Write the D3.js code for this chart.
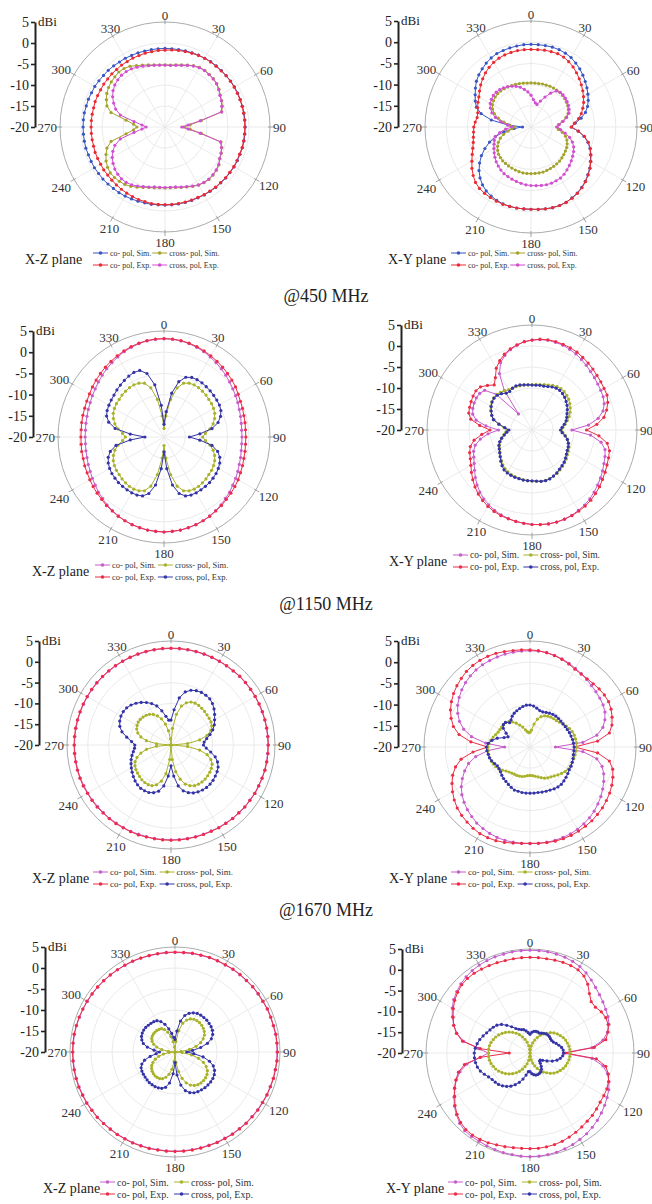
<!DOCTYPE html>
<html>
<head>
<meta charset="utf-8">
<script src="https://cdn.jsdelivr.net/npm/d3@7"></script>
<style>
  html, body { margin: 0; padding: 0; background: #fff; }
  svg { display: block; }
</style>
</head>
<body>
<svg id="fig" width="652" height="1204"></svg>
<script>
// ---- axes, ticks and labels ----
const angleStep = 5;
const angles = d3.range(0, 360, angleStep);           // sample angles, degrees
const angleTicks = [0, 30, 60, 90, 120, 150, 180, 210, 240, 270, 300, 330];
const gainTicks = [5, 0, -5, -10, -15, -20];
const gainDomain = [-20, 5];
const seriesKeys = ["coSim", "coExp", "crossSim", "crossExp"];
const seriesLabels = ["co- pol, Sim.", "co- pol, Exp.", "cross- pol, Sim.", "cross, pol, Exp."];
const planeNames = ["X-Z plane", "X-Y plane"];
const frequencyTitles = ["@450 MHz", "@1150 MHz", "@1670 MHz"];

// ---- gain patterns (dBi), one value every 5 degrees from 0 to 355 ----
// 450 MHz, X-Z plane
const xz450CoSim = [
  -1.3,-1.3,-1.3,-1.2,-1.2,-1.1,-1.1,-1.0,-1.0,-1.0,-1.0,-0.9,
  -0.9,-0.9,-0.9,-0.9,-0.9,-0.9,-0.9,-0.9,-0.9,-0.9,-1.0,-1.0,
  -1.0,-1.1,-1.1,-1.2,-1.2,-1.3,-1.3,-1.4,-1.4,-1.4,-1.4,-1.4,
  -1.4,-1.4,-1.3,-1.3,-1.2,-1.1,-1.0,-0.9,-0.9,-0.8,-0.7,-0.7,
  -0.6,-0.6,-0.6,-0.5,-0.5,-0.5,-0.5,-0.5,-0.5,-0.6,-0.6,-0.7,
  -0.7,-0.8,-0.9,-0.9,-1.0,-1.1,-1.1,-1.2,-1.2,-1.3,-1.3,-1.3];
const xz450CoExp = [
  -1.7,-1.6,-1.5,-1.4,-1.3,-1.2,-1.1,-1.1,-1.1,-1.1,-1.0,-1.0,
  -1.0,-1.0,-1.0,-1.0,-1.0,-1.0,-1.0,-1.0,-1.0,-1.0,-1.1,-1.1,
  -1.1,-1.2,-1.2,-1.3,-1.3,-1.4,-1.4,-1.5,-1.5,-1.5,-1.5,-1.5,
  -1.5,-1.5,-1.5,-1.6,-1.6,-1.7,-1.8,-1.9,-2.0,-2.1,-2.2,-2.2,
  -2.3,-2.3,-2.3,-2.4,-2.4,-2.4,-2.4,-2.4,-2.4,-2.4,-2.3,-2.3,
  -2.3,-2.2,-2.2,-2.1,-2.1,-2.0,-2.0,-1.9,-1.9,-1.8,-1.8,-1.7];
const xz450CrossSim = [
  -5.2,-5.2,-5.0,-4.7,-4.3,-3.9,-3.6,-3.5,-3.6,-3.7,-3.9,-4.3,
  -4.8,-5.1,-5.5,-6.0,-11.2,-14.0,-15.5,-14.0,-11.2,-6.2,-5.6,-5.2,
  -4.9,-4.3,-4.0,-3.8,-3.7,-3.8,-4.0,-4.4,-4.8,-5.1,-5.4,-5.5,
  -5.5,-5.5,-5.3,-5.1,-4.7,-4.2,-3.7,-3.3,-3.1,-3.0,-3.0,-3.3,
  -3.8,-4.5,-5.3,-6.7,-10.6,-12.5,-13.3,-12.5,-10.6,-6.7,-5.3,-4.6,
  -4.0,-3.6,-3.3,-3.1,-2.9,-3.0,-3.3,-3.9,-4.3,-4.7,-5.0,-5.2];
const xz450CrossExp = [
  -5.3,-5.3,-5.1,-4.8,-4.4,-4.0,-3.7,-3.6,-3.7,-3.8,-4.0,-4.4,
  -4.9,-5.2,-5.6,-6.1,-11.5,-14.5,-16.0,-14.5,-11.5,-6.3,-5.7,-5.3,
  -5.0,-4.4,-4.1,-3.9,-3.8,-3.9,-4.1,-4.5,-4.9,-5.2,-5.5,-5.6,
  -5.6,-5.6,-5.5,-5.2,-4.9,-4.5,-4.1,-3.9,-3.9,-4.1,-4.4,-4.9,
  -5.5,-6.3,-7.3,-9.0,-12.5,-14.5,-15.5,-14.5,-12.5,-9.0,-7.5,-6.5,
  -5.6,-4.9,-4.4,-4.1,-3.9,-3.9,-4.0,-4.3,-4.6,-4.9,-5.1,-5.2];

// 450 MHz, X-Y plane
const xy450CoSim = [
  -0.5,-0.5,-0.5,-0.5,-0.6,-0.8,-1.1,-1.6,-2.1,-2.7,-3.3,-3.9,
  -4.5,-5.1,-5.8,-6.7,-8.0,-9.5,-10.5,-8.8,-7.3,-6.1,-5.2,-4.5,
  -3.8,-3.1,-2.5,-1.9,-1.4,-1.0,-0.7,-0.4,-0.3,-0.3,-0.4,-0.5,
  -0.6,-0.6,-0.6,-0.6,-0.7,-0.9,-1.2,-1.6,-2.2,-3.0,-4.0,-5.2,
  -6.5,-8.0,-9.6,-11.3,-13.5,-16.0,-18.0,-14.5,-10.5,-7.8,-6.3,-5.5,
  -4.8,-4.0,-3.2,-2.6,-2.1,-1.6,-1.2,-0.9,-0.8,-0.7,-0.6,-0.5];
const xy450CoExp = [
  -1.7,-1.7,-1.6,-1.6,-1.6,-1.8,-2.2,-2.7,-3.3,-3.9,-4.5,-5.1,
  -5.7,-6.3,-7.0,-7.7,-8.6,-9.7,-10.5,-8.8,-7.2,-6.0,-5.1,-4.4,
  -3.7,-3.0,-2.4,-1.8,-1.3,-0.9,-0.6,-0.4,-0.3,-0.3,-0.4,-0.5,
  -0.6,-0.6,-0.6,-0.6,-0.6,-0.7,-0.8,-0.9,-1.1,-1.5,-2.2,-3.0,
  -3.9,-4.7,-5.4,-5.9,-6.2,-6.4,-6.5,-6.8,-7.1,-7.0,-6.6,-6.2,
  -5.8,-5.2,-4.5,-3.9,-3.3,-2.8,-2.4,-2.1,-1.9,-1.8,-1.7,-1.7];
const xy450CrossSim = [
  -9.6,-9.6,-9.6,-9.5,-9.5,-9.4,-9.4,-9.4,-9.4,-9.5,-9.6,-9.8,
  -10.0,-10.3,-10.7,-11.5,-12.5,-13.5,-14.0,-13.5,-12.5,-11.6,-11.0,-10.6,
  -10.3,-10.1,-9.9,-9.7,-9.5,-9.4,-9.3,-9.2,-9.1,-9.0,-9.0,-9.0,
  -9.0,-9.0,-9.0,-9.1,-9.2,-9.3,-9.4,-9.5,-9.6,-9.8,-10.0,-10.4,
  -10.9,-11.5,-12.3,-13.3,-14.5,-15.5,-16.0,-15.0,-13.5,-12.0,-10.8,-10.0,
  -9.5,-9.2,-9.0,-8.9,-8.9,-9.0,-9.1,-9.2,-9.3,-9.4,-9.5,-9.6];
const xy450CrossExp = [
  -12.5,-13.5,-14.2,-14.5,-13.5,-12.2,-10.8,-9.6,-9.3,-9.3,-9.4,-9.6,
  -9.8,-10.1,-10.5,-11.3,-12.3,-13.3,-13.8,-13.0,-11.8,-10.6,-9.6,-8.9,
  -8.4,-8.0,-7.6,-7.2,-6.8,-6.4,-6.1,-6.0,-5.9,-5.9,-6.0,-6.1,
  -6.2,-6.3,-6.5,-6.7,-6.9,-7.1,-7.3,-7.6,-8.0,-8.4,-8.9,-9.4,
  -9.9,-10.4,-10.8,-11.3,-12.5,-14.0,-15.5,-14.5,-12.8,-11.3,-10.2,-9.4,
  -8.9,-8.6,-8.4,-8.4,-8.5,-8.7,-9.0,-9.4,-9.8,-10.3,-11.0,-11.7];

// 1150 MHz, X-Z plane
const xz1150CoSim = [
  3.2,3.1,3.0,2.8,2.5,2.2,1.8,1.4,1.0,0.6,0.2,-0.2,
  -0.5,-0.8,-1.1,-1.3,-1.5,-1.6,-1.6,-1.6,-1.5,-1.3,-1.1,-0.8,
  -0.5,-0.2,0.2,0.5,0.9,1.2,1.5,1.8,2.0,2.2,2.3,2.4,
  2.4,2.4,2.3,2.2,2.0,1.8,1.5,1.2,0.9,0.5,0.2,-0.2,
  -0.5,-0.8,-1.0,-1.2,-1.3,-1.4,-1.4,-1.4,-1.3,-1.2,-1.0,-0.8,
  -0.5,-0.2,0.2,0.6,1.0,1.4,1.8,2.2,2.5,2.8,3.0,3.1];
const xz1150CoExp = [
  3.2,3.2,3.1,2.9,2.7,2.4,2.1,1.8,1.5,1.2,0.9,0.6,
  0.2,-0.1,-0.3,-0.5,-0.6,-0.7,-0.7,-0.7,-0.6,-0.5,-0.3,-0.1,
  0.2,0.4,0.6,0.8,1.1,1.3,1.6,1.8,2.0,2.1,2.3,2.3,
  2.4,2.3,2.3,2.1,2.0,1.8,1.6,1.3,1.1,0.8,0.6,0.4,
  0.2,0.0,-0.1,-0.3,-0.3,-0.4,-0.4,-0.4,-0.3,-0.2,-0.1,0.1,
  0.3,0.6,0.9,1.2,1.5,1.8,2.1,2.4,2.7,2.9,3.1,3.2];
const xz1150CrossSim = [
  -18.0,-15.0,-11.0,-8.0,-6.5,-6.0,-5.8,-5.8,-5.9,-6.0,-6.2,-6.3,
  -6.5,-6.8,-7.3,-8.0,-9.0,-10.2,-10.9,-10.2,-9.0,-8.0,-7.3,-6.8,
  -6.5,-6.3,-6.2,-6.0,-5.9,-5.8,-5.8,-6.0,-6.5,-8.0,-11.0,-15.0,
  -18.0,-15.0,-11.0,-8.0,-6.5,-6.0,-5.8,-5.8,-5.9,-6.0,-6.2,-6.3,
  -6.5,-6.8,-7.3,-8.0,-9.0,-10.2,-10.9,-10.2,-9.0,-8.0,-7.3,-6.8,
  -6.5,-6.3,-6.2,-6.0,-5.9,-5.8,-5.8,-6.0,-6.5,-8.0,-11.0,-15.0];
const xz1150CrossExp = [
  -17.0,-14.0,-9.5,-6.5,-5.0,-4.5,-4.4,-4.4,-4.5,-4.6,-4.7,-4.8,
  -4.9,-5.2,-5.8,-6.8,-8.5,-11.5,-14.0,-11.5,-8.5,-6.9,-6.0,-5.5,
  -5.2,-5.0,-4.9,-4.8,-4.8,-4.8,-4.8,-4.9,-5.2,-6.2,-8.5,-12.5,
  -16.5,-12.5,-8.5,-6.2,-5.2,-4.9,-4.8,-4.8,-4.8,-4.8,-4.9,-5.0,
  -5.2,-5.5,-6.0,-6.9,-8.5,-12.0,-15.5,-12.0,-8.3,-6.5,-5.6,-5.2,
  -5.0,-4.8,-4.6,-4.3,-4.0,-3.7,-3.4,-3.2,-3.3,-4.5,-7.5,-12.5];

// 1150 MHz, X-Y plane
const xy1150CoSim = [
  1.4,1.6,1.7,1.6,1.5,1.2,0.9,0.5,0.1,-0.3,-0.6,-0.9,
  -1.1,-1.3,-1.7,-2.5,-4.0,-6.5,-10.5,-6.0,-3.3,-2.0,-1.5,-1.1,
  -0.6,-0.1,0.4,0.9,1.4,1.8,2.1,2.4,2.6,2.7,2.7,2.6,
  2.5,2.3,2.1,1.8,1.5,1.1,0.6,0.0,-0.7,-1.5,-2.4,-3.3,
  -4.1,-4.7,-5.2,-6.0,-7.5,-9.5,-12.0,-9.0,-6.5,-5.4,-5.0,-4.8,
  -4.7,-4.8,-5.3,-8.0,-15.0,-8.5,-4.5,-2.3,-1.1,-0.2,0.5,1.1];
const xy1150CoExp = [
  1.4,1.7,1.8,1.8,1.7,1.6,1.4,1.1,0.8,0.5,0.2,0.0,
  -0.2,-0.3,-0.8,-1.6,-2.6,-4.5,-7.0,-4.0,-1.8,-0.9,-0.6,-0.3,
  0.1,0.5,1.0,1.4,1.8,2.1,2.3,2.5,2.6,2.7,2.7,2.6,
  2.5,2.3,2.1,1.9,1.7,1.4,1.0,0.5,-0.1,-0.8,-1.6,-2.4,
  -3.2,-3.8,-4.2,-4.8,-6.0,-8.0,-10.0,-7.5,-5.2,-4.4,-4.2,-4.0,
  -3.8,-3.7,-4.0,-5.0,-6.0,-4.8,-3.0,-1.8,-0.8,0.0,0.6,1.1];
const xy1150CrossSim = [
  -9.2,-9.1,-9.0,-8.8,-8.6,-8.3,-8.1,-8.0,-8.1,-8.3,-8.6,-9.0,
  -9.5,-10.0,-10.6,-11.3,-12.0,-12.6,-13.0,-12.6,-11.9,-11.2,-10.7,-10.3,
  -10.0,-9.7,-9.3,-9.0,-8.7,-8.4,-8.1,-7.9,-7.7,-7.6,-7.6,-7.7,
  -7.8,-7.9,-8.0,-8.1,-8.2,-8.3,-8.5,-8.8,-9.2,-9.7,-10.2,-10.7,
  -11.1,-11.5,-12.0,-12.6,-13.2,-13.7,-14.0,-13.3,-12.0,-10.7,-9.8,-9.1,
  -8.6,-8.3,-8.1,-8.1,-8.3,-8.6,-8.9,-9.0,-9.0,-9.1,-9.1,-9.2];
const xy1150CrossExp = [
  -9.3,-9.3,-9.2,-9.2,-9.0,-8.7,-8.5,-8.5,-8.7,-9.0,-9.4,-9.8,
  -10.3,-10.8,-11.2,-11.6,-12.2,-12.8,-13.2,-12.8,-12.0,-11.3,-10.8,-10.5,
  -10.3,-10.0,-9.6,-9.2,-8.9,-8.6,-8.2,-7.9,-7.6,-7.5,-7.6,-7.8,
  -7.9,-7.9,-7.9,-8.0,-8.0,-8.1,-8.2,-8.4,-8.9,-9.5,-10.1,-10.6,
  -11.0,-11.3,-11.8,-12.5,-13.3,-14.0,-14.5,-13.5,-12.0,-10.5,-9.8,-9.3,
  -8.8,-8.4,-8.2,-8.3,-8.7,-9.3,-9.4,-9.0,-8.8,-8.9,-9.1,-9.2];

// 1670 MHz, X-Z plane
const xz1670CoSim = [
  3.2,3.2,3.2,3.2,3.2,3.2,3.2,3.2,3.2,3.3,3.3,3.3,
  3.3,3.3,3.3,3.3,3.3,3.3,3.3,3.3,3.3,3.3,3.3,3.2,
  3.2,3.1,3.1,3.0,3.0,2.9,2.9,2.8,2.8,2.8,2.8,2.8,
  2.8,2.8,2.8,2.8,2.8,2.9,2.9,2.9,3.0,3.0,3.0,3.1,
  3.1,3.1,3.2,3.2,3.2,3.2,3.2,3.2,3.2,3.2,3.2,3.2,
  3.2,3.2,3.2,3.2,3.2,3.2,3.2,3.2,3.2,3.2,3.2,3.2];
const xz1670CoExp = [
  3.3,3.3,3.3,3.3,3.3,3.3,3.3,3.3,3.3,3.4,3.4,3.4,
  3.4,3.4,3.4,3.4,3.4,3.4,3.4,3.4,3.4,3.4,3.3,3.3,
  3.3,3.2,3.2,3.1,3.1,3.0,3.0,2.9,2.9,2.9,2.9,2.9,
  2.9,2.9,2.9,2.9,3.0,3.0,3.0,3.1,3.1,3.1,3.2,3.2,
  3.2,3.3,3.3,3.3,3.3,3.3,3.3,3.3,3.3,3.3,3.3,3.3,
  3.3,3.3,3.3,3.3,3.3,3.3,3.3,3.3,3.3,3.3,3.3,3.3];
const xz1670CrossSim = [
  -20.0,-16.0,-12.5,-10.3,-9.2,-8.6,-8.4,-8.4,-8.5,-8.6,-8.7,-8.8,
  -8.9,-9.2,-9.8,-11.0,-13.0,-16.0,-20.0,-16.0,-13.0,-11.0,-9.8,-9.1,
  -8.8,-8.6,-8.5,-8.4,-8.4,-8.5,-8.7,-9.2,-10.0,-11.5,-13.5,-16.5,
  -20.0,-16.5,-13.0,-11.0,-9.8,-9.2,-9.0,-9.0,-9.1,-9.3,-9.5,-9.7,
  -10.0,-10.5,-11.3,-12.5,-14.0,-16.5,-20.0,-16.5,-14.0,-12.5,-11.5,-10.9,
  -10.6,-10.4,-10.4,-10.5,-10.7,-11.0,-11.5,-12.3,-13.3,-14.8,-16.5,-18.5];
const xz1670CrossExp = [
  -14.0,-11.5,-8.5,-6.8,-6.0,-5.6,-5.4,-5.4,-5.5,-5.9,-6.5,-7.2,
  -7.9,-8.5,-9.3,-10.3,-11.3,-12.0,-12.2,-11.5,-10.3,-9.0,-8.1,-7.5,
  -7.2,-7.0,-6.8,-6.7,-6.7,-6.8,-7.0,-7.3,-7.8,-8.6,-10.0,-12.5,
  -15.0,-12.5,-10.0,-8.5,-7.8,-7.4,-7.3,-7.3,-7.5,-7.8,-8.2,-8.6,
  -9.0,-9.4,-9.8,-10.3,-10.8,-11.2,-11.3,-10.5,-9.2,-7.8,-6.9,-6.4,
  -6.1,-6.0,-6.1,-6.4,-6.9,-7.5,-8.2,-9.0,-10.0,-11.5,-13.0,-14.0];

// 1670 MHz, X-Y plane
const xy1670CoSim = [
  2.7,2.7,2.6,2.4,2.1,1.8,1.4,1.1,0.8,0.5,0.3,0.1,
  -0.1,-0.5,-1.2,-2.2,-4.0,-7.5,-14.0,-7.5,-4.0,-2.4,-1.5,-0.8,
  -0.2,0.4,0.9,1.4,1.8,2.1,2.4,2.6,2.7,2.8,2.8,2.8,
  2.8,2.8,2.8,2.8,2.7,2.5,2.2,1.9,1.4,0.9,0.3,-0.4,
  -1.3,-2.4,-3.6,-5.0,-7.0,-10.0,-14.0,-9.5,-6.0,-3.8,-2.3,-1.2,
  -0.3,0.4,1.0,1.5,1.9,2.2,2.4,2.5,2.6,2.7,2.7,2.7];
const xy1670CoExp = [
  2.9,2.8,2.6,2.3,2.0,1.6,1.2,1.0,1.0,1.1,1.3,1.4,
  1.4,1.1,0.6,0.0,-1.0,-4.0,-9.5,-4.0,-1.0,0.2,0.8,1.3,
  1.7,2.0,2.3,2.5,2.7,2.8,2.9,3.0,3.0,3.0,2.9,2.8,
  2.7,2.8,3.0,3.3,3.5,3.6,3.6,3.4,3.1,2.8,2.4,1.8,
  1.1,0.3,-0.6,-1.8,-3.5,-6.5,-10.0,-6.0,-3.0,-1.3,-0.2,0.7,
  1.4,2.0,2.5,2.9,3.3,3.5,3.6,3.6,3.5,3.3,3.1,3.0];
const xy1670CrossSim = [
  -16.5,-16.0,-14.5,-13.2,-12.4,-11.9,-11.6,-11.4,-11.3,-11.2,-10.9,-10.5,
  -10.1,-9.7,-9.4,-9.2,-9.1,-9.0,-9.0,-9.1,-9.2,-9.3,-9.4,-9.5,
  -9.6,-9.9,-10.3,-10.7,-11.1,-11.4,-11.6,-11.9,-12.3,-12.7,-13.0,-13.2,
  -13.3,-13.2,-13.0,-12.8,-12.7,-12.6,-12.6,-12.5,-12.3,-12.0,-11.5,-11.0,
  -10.7,-10.5,-10.3,-10.2,-10.1,-10.1,-10.1,-10.3,-10.6,-11.0,-11.4,-11.7,
  -11.8,-11.8,-11.8,-11.9,-12.2,-12.8,-13.5,-14.3,-15.0,-15.8,-16.3,-16.6];
const xy1670CrossExp = [
  -10.1,-10.3,-10.7,-11.1,-11.2,-11.0,-10.8,-10.6,-10.5,-10.5,-10.5,-10.5,
  -10.4,-10.3,-10.1,-10.0,-9.8,-9.7,-9.6,-9.6,-9.6,-9.5,-9.4,-9.3,
  -9.3,-9.1,-8.9,-8.7,-8.5,-8.5,-8.6,-8.8,-8.9,-9.0,-9.1,-9.1,
  -9.1,-9.1,-9.1,-9.2,-9.2,-9.5,-9.8,-10.1,-10.3,-10.6,-10.9,-11.1,
  -11.1,-10.8,-10.4,-10.1,-10.0,-9.8,-9.7,-10.1,-10.9,-12.0,-13.5,-14.3,
  -13.5,-12.3,-11.8,-11.8,-12.5,-12.2,-11.6,-11.2,-10.9,-10.6,-10.3,-10.1];

// fourth row, X-Z plane
const xzRow4CoSim = [
  3.7,3.7,3.8,3.8,3.9,3.9,3.9,4.0,4.0,4.0,4.1,4.1,
  4.1,4.2,4.2,4.2,4.3,4.3,4.3,4.3,4.2,4.2,4.1,4.1,
  4.0,4.0,3.9,3.9,3.8,3.8,3.7,3.7,3.6,3.6,3.6,3.6,
  3.6,3.6,3.6,3.7,3.7,3.8,3.8,3.9,3.9,4.0,4.1,4.1,
  4.2,4.2,4.3,4.3,4.3,4.3,4.3,4.3,4.3,4.3,4.2,4.2,
  4.1,4.1,4.0,4.0,3.9,3.9,3.8,3.8,3.8,3.7,3.7,3.7];
const xzRow4CoExp = [
  3.8,3.8,3.9,3.9,4.0,4.0,4.0,4.1,4.1,4.1,4.2,4.2,
  4.2,4.3,4.3,4.3,4.4,4.4,4.4,4.4,4.3,4.3,4.2,4.2,
  4.1,4.1,4.0,4.0,3.9,3.9,3.8,3.8,3.7,3.7,3.7,3.7,
  3.7,3.7,3.7,3.8,3.8,3.9,3.9,4.0,4.0,4.1,4.2,4.2,
  4.3,4.3,4.4,4.4,4.4,4.4,4.4,4.4,4.4,4.3,4.3,4.2,
  4.2,4.1,4.1,4.0,4.0,3.9,3.9,3.9,3.8,3.8,3.8,3.8];
const xzRow4CrossSim = [
  -20.0,-17.5,-14.8,-12.9,-11.9,-11.3,-11.0,-10.9,-10.9,-11.0,-11.2,-11.5,
  -11.9,-12.6,-13.5,-14.8,-16.5,-18.5,-20.0,-18.3,-16.0,-14.2,-12.8,-11.8,
  -11.1,-10.7,-10.5,-10.4,-10.4,-10.5,-10.8,-11.3,-12.2,-13.5,-15.3,-17.5,
  -20.0,-17.8,-15.8,-14.5,-13.6,-13.0,-12.7,-12.6,-12.6,-12.7,-12.9,-13.2,
  -13.6,-14.2,-15.0,-16.0,-17.2,-18.6,-20.0,-18.4,-16.8,-15.5,-14.6,-14.0,
  -13.6,-13.4,-13.3,-13.3,-13.3,-13.4,-13.6,-14.1,-15.0,-16.2,-17.5,-18.8];
const xzRow4CrossExp = [
  -17.0,-15.0,-12.5,-11.0,-10.2,-9.7,-9.4,-9.3,-9.3,-9.3,-9.4,-9.5,
  -9.7,-10.1,-10.8,-12.0,-13.8,-15.8,-17.2,-15.5,-13.2,-11.5,-10.3,-9.6,
  -9.2,-9.0,-8.9,-8.9,-8.9,-9.0,-9.1,-9.3,-9.7,-10.5,-12.0,-14.5,
  -17.5,-14.8,-12.5,-11.3,-10.8,-10.6,-10.5,-10.5,-10.5,-10.6,-10.7,-10.8,
  -10.9,-11.1,-11.6,-12.5,-14.0,-15.5,-16.3,-15.0,-13.3,-12.2,-11.6,-11.2,
  -11.0,-10.9,-10.9,-11.0,-11.1,-11.2,-11.4,-12.0,-13.0,-14.3,-15.5,-16.5];

// fourth row, X-Y plane
const xyRow4CoSim = [
  4.7,4.7,4.7,4.6,4.5,4.3,4.0,3.5,2.9,2.3,1.8,1.4,
  1.0,0.7,0.2,-0.7,-2.2,-5.0,-12.0,-5.0,-2.2,-0.7,0.2,0.9,
  1.4,1.9,2.4,2.9,3.3,3.7,4.0,4.3,4.5,4.7,4.8,4.9,
  4.9,4.9,4.8,4.8,4.7,4.6,4.5,4.5,4.4,3.9,3.1,2.2,
  1.1,0.0,-1.2,-2.6,-4.5,-8.0,-10.0,-7.5,-3.8,-1.8,-0.5,0.6,
  1.6,2.4,3.0,3.5,3.9,4.2,4.4,4.5,4.6,4.6,4.7,4.7];
const xyRow4CoExp = [
  3.0,3.0,3.0,3.1,3.2,3.2,3.1,2.6,1.6,0.2,-0.8,-0.8,
  -0.2,0.1,0.0,-0.6,-1.5,-4.5,-11.5,-4.0,-1.5,-0.5,0.1,0.4,
  0.5,0.6,0.9,1.2,1.4,1.7,2.0,2.3,2.6,2.8,2.9,3.0,
  3.0,3.0,3.1,3.3,3.5,3.8,4.0,4.1,4.0,3.6,2.9,2.0,
  0.9,0.0,-1.0,-2.2,-4.0,-8.0,-15.0,-8.0,-3.5,-1.7,-0.5,0.4,
  1.3,2.1,2.7,3.2,3.4,3.4,3.3,3.2,3.1,3.0,3.0,3.0];
const xyRow4CrossSim = [
  -20.0,-19.2,-18.3,-17.5,-16.7,-15.9,-15.1,-14.4,-13.8,-13.1,-12.5,-12.0,
  -11.6,-11.2,-10.9,-10.7,-10.5,-10.4,-10.4,-10.4,-10.5,-10.7,-10.9,-11.2,
  -11.6,-12.0,-12.5,-13.1,-13.8,-14.4,-15.1,-15.9,-16.7,-17.5,-18.3,-19.2,
  -20.0,-19.1,-18.2,-17.3,-16.5,-15.7,-14.9,-14.2,-13.5,-12.9,-12.3,-11.8,
  -11.3,-10.9,-10.6,-10.3,-10.1,-10.0,-10.0,-10.0,-10.1,-10.3,-10.6,-10.9,
  -11.3,-11.8,-12.3,-12.9,-13.5,-14.2,-14.9,-15.7,-16.5,-17.3,-18.2,-19.1];
const xyRow4CrossExp = [
  -15.5,-15.0,-14.7,-14.6,-14.6,-14.7,-14.5,-14.2,-14.0,-13.9,-13.9,-14.0,
  -14.0,-13.8,-13.3,-12.8,-12.3,-12.0,-11.9,-12.1,-12.6,-13.3,-14.3,-15.5,
  -16.5,-17.0,-17.0,-16.5,-15.8,-15.2,-14.8,-14.6,-14.5,-14.5,-14.7,-15.0,
  -15.5,-15.5,-14.6,-13.5,-12.5,-11.6,-10.8,-10.2,-9.7,-9.3,-9.1,-8.9,
  -8.5,-7.9,-7.3,-6.9,-6.7,-6.6,-6.6,-6.8,-7.1,-7.5,-8.0,-8.5,
  -8.9,-9.2,-9.6,-10.3,-11.3,-12.3,-13.2,-13.7,-14.0,-14.2,-14.6,-15.1];

// ---- colours ----
const paletteLow = { coSim: "#3756c4", coExp: "#ea2a32", crossSim: "#a3a22c", crossExp: "#d24fd0" };
const paletteHigh = { coSim: "#c75ccb", coExp: "#ec2d48", crossSim: "#a8b22a", crossExp: "#3434a8" };

// ---- panel layout ----
const panels = [
  { plane: 0, cx: 165, cy: 127, R: 105, barX: 35, legX: 25, legY: 259, legItemX: 93, legFont: 8, palette: paletteLow,
    data: { coSim: xz450CoSim, coExp: xz450CoExp, crossSim: xz450CrossSim, crossExp: xz450CrossExp } },
  { plane: 1, cx: 531, cy: 127, R: 106, barX: 398, legX: 388, legY: 259, legItemX: 451, legFont: 8, palette: paletteLow,
    data: { coSim: xy450CoSim, coExp: xy450CoExp, crossSim: xy450CrossSim, crossExp: xy450CrossExp } },
  { plane: 0, cx: 164, cy: 437, R: 106, barX: 33, legX: 32, legY: 571, legItemX: 95, legFont: 8.5, palette: paletteHigh,
    data: { coSim: xz1150CoSim, coExp: xz1150CoExp, crossSim: xz1150CrossSim, crossExp: xz1150CrossExp } },
  { plane: 1, cx: 532, cy: 430, R: 105, barX: 401, legX: 389, legY: 561, legItemX: 453, legFont: 9.5, palette: paletteHigh,
    data: { coSim: xy1150CoSim, coExp: xy1150CoExp, crossSim: xy1150CrossSim, crossExp: xy1150CrossExp } },
  { plane: 0, cx: 171, cy: 745, R: 104, barX: 39, legX: 32, legY: 878, legItemX: 93, legFont: 9, palette: paletteHigh,
    data: { coSim: xz1670CoSim, coExp: xz1670CoExp, crossSim: xz1670CrossSim, crossExp: xz1670CrossExp } },
  { plane: 1, cx: 530, cy: 747, R: 106, barX: 398, legX: 389, legY: 878, legItemX: 451, legFont: 9, palette: paletteHigh,
    data: { coSim: xy1670CoSim, coExp: xy1670CoExp, crossSim: xy1670CrossSim, crossExp: xy1670CrossExp } },
  { plane: 0, cx: 175, cy: 1052, R: 105, barX: 45, legX: 43, legY: 1188, legItemX: 100, legFont: 10, palette: paletteHigh,
    data: { coSim: xzRow4CoSim, coExp: xzRow4CoExp, crossSim: xzRow4CrossSim, crossExp: xzRow4CrossExp } },
  { plane: 1, cx: 530, cy: 1053, R: 104, barX: 402, legX: 386, legY: 1188, legItemX: 448, legFont: 10, palette: paletteHigh,
    data: { coSim: xyRow4CoSim, coExp: xyRow4CoExp, crossSim: xyRow4CrossSim, crossExp: xyRow4CrossExp } }
];
const titleRows = [296, 604, 910];

const serif = '"Liberation Serif", "Times New Roman", serif';
const svg = d3.select("#fig");
const rad = d => d * Math.PI / 180;

// angle label placement just outside the rim
function angleLabel(a, R) {
  const [px, py] = d3.pointRadial(rad(a), R);
  switch (a) {
    case 0: return [0, -R - 7, "middle"];
    case 180: return [0, R + 10, "middle"];
    case 90: return [R + 3, 0, "start"];
    case 270: return [-R - 3, 0, "end"];
    case 30: return [px + 1, py - 8, "middle"];
    case 330: return [px - 2, py - 8, "middle"];
    case 150: return [px + 4, py + 11, "middle"];
    case 210: return [px - 3, py + 11, "middle"];
    case 60: return [px + 4, py - 4, "start"];
    case 120: return [px + 3, py + 6, "start"];
    case 240: return [px - 3, py + 8, "end"];
    default: return [px - 3, py - 5, "end"];
  }
}

panels.forEach(p => {
  const r = d3.scaleLinear().domain(gainDomain).range([0, p.R]).clamp(true);
  const g = svg.append("g").attr("transform", `translate(${p.cx},${p.cy})`);

  // grid rings and spokes
  g.append("g").selectAll("circle")
    .data(gainTicks.filter(v => v > gainDomain[0] && v < gainDomain[1]))
    .join("circle")
    .attr("r", d => r(d)).attr("fill", "none")
    .attr("stroke", "#e4e4e4").attr("stroke-width", 0.8);
  g.append("g").selectAll("line")
    .data(angleTicks).join("line")
    .attr("x1", 0).attr("y1", 0)
    .attr("x2", d => d3.pointRadial(rad(d), p.R)[0])
    .attr("y2", d => d3.pointRadial(rad(d), p.R)[1])
    .attr("stroke", "#e6e6e6").attr("stroke-width", 0.8);

  // rim and rim ticks
  g.append("circle").attr("r", p.R).attr("fill", "none")
    .attr("stroke", "#a9adad").attr("stroke-width", 1);
  g.append("g").selectAll("line")
    .data(angleTicks).join("line")
    .attr("x1", d => d3.pointRadial(rad(d), p.R - 2)[0])
    .attr("y1", d => d3.pointRadial(rad(d), p.R - 2)[1])
    .attr("x2", d => d3.pointRadial(rad(d), p.R + 4)[0])
    .attr("y2", d => d3.pointRadial(rad(d), p.R + 4)[1])
    .attr("stroke", "#999").attr("stroke-width", 0.9);

  // angle labels
  g.append("g").selectAll("text")
    .data(angleTicks).join("text")
    .each(function (d) {
      const [x, y, anchor] = angleLabel(d, p.R);
      d3.select(this).attr("x", x).attr("y", y).attr("text-anchor", anchor);
    })
    .attr("dy", "0.35em")
    .attr("font-family", serif).attr("font-size", 13).attr("fill", "#333")
    .text(d => d);

  // pattern curves with point markers
  const radial = d3.lineRadial()
    .angle((d, i) => rad(angles[i]))
    .radius(d => r(d))
    .curve(d3.curveLinearClosed);
  seriesKeys.forEach(k => {
    const vals = p.data[k];
    const col = p.palette[k];
    g.append("path").attr("d", radial(vals))
      .attr("fill", "none").attr("stroke", col).attr("stroke-width", 1);
    g.append("g").selectAll("circle")
      .data(vals).join("circle")
      .attr("cx", (d, i) => d3.pointRadial(rad(angles[i]), r(d))[0])
      .attr("cy", (d, i) => d3.pointRadial(rad(angles[i]), r(d))[1])
      .attr("r", 1.6).attr("fill", col);
  });

  // radial gain scale bar
  const y = d3.scaleLinear().domain(gainDomain).range([p.R, 0]);
  const bar = svg.append("g")
    .attr("transform", `translate(${p.barX},${p.cy - p.R})`)
    .call(d3.axisLeft(y).tickValues(gainTicks).tickSize(4).tickSizeOuter(0)
      .tickPadding(2).tickFormat(d => String(d)));
  bar.select(".domain").attr("stroke", "#222").attr("stroke-width", 2);
  bar.selectAll(".tick line").attr("stroke", "#222").attr("stroke-width", 1.6);
  bar.selectAll(".tick text").attr("font-family", serif).attr("font-size", 14).attr("fill", "#222");
  svg.append("text")
    .attr("x", p.barX + 3).attr("y", p.cy - p.R - 1).attr("dy", "0.35em")
    .attr("font-family", serif).attr("font-size", 13).attr("fill", "#222")
    .text("dBi");

  // legend
  const lg = svg.append("g");
  lg.append("text")
    .attr("x", p.legX).attr("y", p.legY).attr("dy", "0.35em")
    .attr("font-family", serif).attr("font-size", 14).attr("fill", "#222")
    .text(planeNames[p.plane]);
  const colGap = p.legFont * 7.4;
  const rowGap = 6;
  seriesKeys.forEach((k, i) => {
    const col = i < 2 ? 0 : 1;
    const row = i % 2;
    const x0 = p.legItemX + col * colGap;
    const y0 = p.legY + (row === 0 ? -rowGap : rowGap);
    lg.append("line").attr("x1", x0).attr("x2", x0 + 15).attr("y1", y0).attr("y2", y0)
      .attr("stroke", p.palette[k]).attr("stroke-width", 1);
    lg.append("circle").attr("cx", x0 + 7.5).attr("cy", y0).attr("r", 1.8).attr("fill", p.palette[k]);
    lg.append("text").attr("x", x0 + 17).attr("y", y0).attr("dy", "0.35em")
      .attr("font-family", serif).attr("font-size", p.legFont).attr("fill", "#333")
      .text(seriesLabels[i]);
  });
});

// frequency captions between rows
svg.append("g").selectAll("text")
  .data(frequencyTitles).join("text")
  .attr("x", 326).attr("y", (d, i) => titleRows[i]).attr("dy", "0.35em")
  .attr("text-anchor", "middle")
  .attr("font-family", serif).attr("font-size", 18).attr("fill", "#222")
  .text(d => d);
</script>
</body>
</html>
